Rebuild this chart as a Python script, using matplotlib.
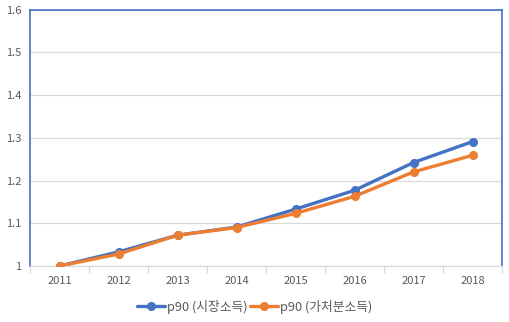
import matplotlib.pyplot as plt
import numpy as np
from matplotlib.ticker import FuncFormatter

plt.rcParams['font.family'] = ['Noto Sans CJK KR', 'DejaVu Sans']

years = ['2011', '2012', '2013', '2014', '2015', '2016', '2017', '2018']
market = [1.000, 1.033, 1.072, 1.091, 1.133, 1.177, 1.242, 1.291]
disposable = [1.000, 1.028, 1.072, 1.090, 1.123, 1.163, 1.220, 1.259]
labels = ['p90 (시장소득)', 'p90 (가처분소득)']

blue = '#4472C4'
orange = '#ED7D31'
gray = '#595959'

fig = plt.figure(figsize=(5.09, 3.22), dpi=100)
ax = fig.add_axes([30 / 509, 56 / 322, 472 / 509, 256.5 / 322])

x = np.arange(len(years))
ax.plot(x, market, color=blue, lw=2.4, marker='o', ms=5.5, label=labels[0],
        solid_capstyle='round', zorder=3)
ax.plot(x, disposable, color=orange, lw=2.4, marker='o', ms=5.5, label=labels[1],
        solid_capstyle='round', zorder=4)

ax.set_xlim(-0.5, len(years) - 0.5)
ax.set_ylim(1.0, 1.6)
ax.set_yticks(np.arange(1.0, 1.61, 0.1))
ax.yaxis.set_major_formatter(FuncFormatter(lambda v, p: f'{v:g}'))
ax.set_xticks(x)
ax.set_xticklabels(years)
ax.set_xticks(np.arange(-0.5, len(years), 1.0), minor=True)

ax.grid(axis='y', color='#D9D9D9', lw=0.9)
ax.set_axisbelow(True)

ax.tick_params(axis='x', which='major', length=0, pad=7, labelsize=8, labelcolor=gray)
ax.tick_params(axis='x', which='minor', length=5, color='#D9D9D9', width=0.9)
ax.tick_params(axis='y', length=0, pad=6, labelsize=8, labelcolor=gray)

for side in ['left', 'top', 'right']:
    ax.spines[side].set_color(blue)
    ax.spines[side].set_linewidth(1.2)
ax.spines['bottom'].set_color('#D9D9D9')
ax.spines['bottom'].set_linewidth(0.9)

fig.legend(loc='lower center', bbox_to_anchor=(0.5, -0.01), ncol=2, frameon=False,
           fontsize=9.2, labelcolor=gray, handlelength=2.2, columnspacing=0.2,
           handletextpad=0.15)

plt.savefig('out.png', dpi=100)
